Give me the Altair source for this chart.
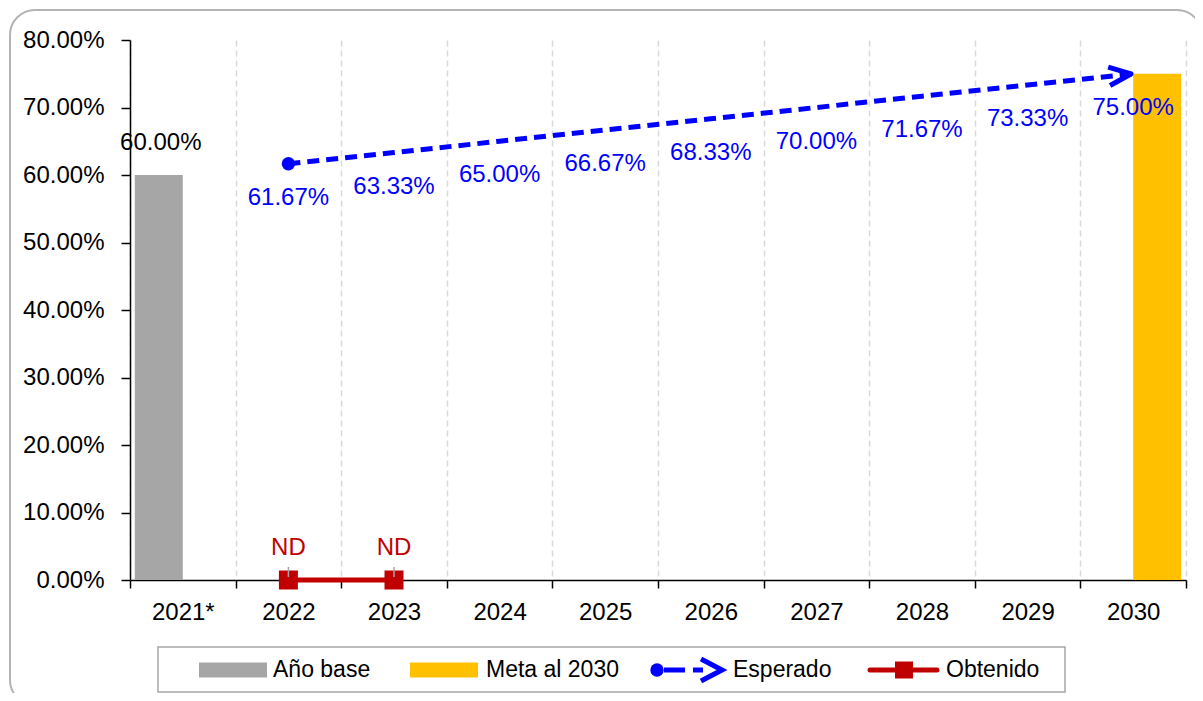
import altair as alt
import pandas as pd

# ---------------- data ----------------
years = ["2021*", "2022", "2023", "2024", "2025", "2026", "2027", "2028", "2029", "2030"]

bar_years = ["2021*", "2030"]
bar_series = ["Año base", "Meta al 2030"]
bar_values = [0.60, 0.75]
bar_labels = ["60.00%", ""]

esperado_years = ["2022", "2023", "2024", "2025", "2026", "2027", "2028", "2029", "2030"]
esperado_values = [0.6167, 0.6333, 0.6500, 0.6667, 0.6833, 0.7000, 0.7167, 0.7333, 0.7500]

obtenido_years = ["2022", "2023"]
obtenido_values = [0.0, 0.0]
obtenido_labels = ["ND", "ND"]

y_ticks = [0.0, 0.1, 0.2, 0.3, 0.4, 0.5, 0.6, 0.7, 0.8]
legend_labels = ["Año base", "Meta al 2030", "Esperado", "Obtenido"]

# ---------------- styles ----------------
FONT = "Liberation Sans, Arial, sans-serif"
GRAY = "#A6A6A6"
YELLOW = "#FFC000"
BLUE = "#0000FF"
RED = "#C00000"
FS = 24

bars_df = pd.DataFrame({"year": bar_years, "serie": bar_series, "value": bar_values, "label": bar_labels})
esp_df = pd.DataFrame({"year": esperado_years, "value": esperado_values})
obt_df = pd.DataFrame({"year": obtenido_years, "value": obtenido_values, "label": obtenido_labels})

x_enc = alt.X(
    "year:N",
    scale=alt.Scale(domain=years, paddingInner=0, paddingOuter=0),
    axis=alt.Axis(
        title=None, labelAngle=0, tickBand="extent", grid=True,
        gridColor="#D9D9D9", gridDash=[6, 4], gridWidth=1.5,
        domainColor="black", domainWidth=1.5, tickColor="black", tickWidth=1.5,
        tickSize=8, labelPadding=12, labelFont=FONT, labelFontSize=FS,
        labelColor="black",
    ),
)
y_enc = alt.Y(
    "value:Q",
    scale=alt.Scale(domain=[0, 0.8], nice=False, zero=True),
    axis=alt.Axis(
        title=None, values=y_ticks, format=".2%", grid=False,
        domainColor="black", domainWidth=1.5, tickColor="black", tickWidth=1.5,
        tickSize=9, labelPadding=17, labelFont=FONT, labelFontSize=FS,
        labelColor="black",
    ),
)
xoff = alt.XOffset("serie:N", scale=alt.Scale(domain=bar_series, paddingInner=0, paddingOuter=0.1))

bars = alt.Chart(bars_df).mark_bar().encode(
    x=x_enc, y=y_enc, xOffset=xoff,
    color=alt.Color("serie:N", scale=alt.Scale(domain=bar_series, range=[GRAY, YELLOW]), legend=None),
)
bar_text = alt.Chart(bars_df).mark_text(dy=-32, dx=2, font=FONT, fontSize=FS, color="black").encode(
    x=alt.X("year:N"), y="value:Q", xOffset=xoff, text="label:N",
)

esp_line = alt.Chart(esp_df).mark_line(color=BLUE, strokeWidth=5, strokeDash=[12, 7]).encode(
    x="year:N", y="value:Q"
)
esp_start = alt.Chart(esp_df.iloc[[0]]).mark_point(
    shape="circle", filled=True, size=180, color=BLUE, opacity=1
).encode(x="year:N", y="value:Q")
esp_arrow = alt.Chart(esp_df.iloc[[-1]]).mark_point(
    shape="M-1.1,-0.42L-0.1,0L-1.1,0.42", filled=False, size=1936, color=BLUE, strokeWidth=5,
    opacity=1, angle=354, strokeJoin="round",
).encode(x="year:N", y="value:Q")
esp_text = alt.Chart(esp_df).mark_text(dy=34, font=FONT, fontSize=FS, color=BLUE).encode(
    x="year:N", y="value:Q", text=alt.Text("value:Q", format=".2%")
)

obt_line = alt.Chart(obt_df).mark_line(color=RED, strokeWidth=5).encode(x="year:N", y="value:Q")
obt_pts = alt.Chart(obt_df).mark_point(shape="square", filled=True, size=361, color=RED, opacity=1).encode(
    x="year:N", y="value:Q"
)
obt_lead = alt.Chart(obt_df).mark_rule(color=GRAY, strokeWidth=1.5, yOffset=-13, y2Offset=-3).encode(
    x="year:N", y="value:Q", y2="value:Q"
)
obt_text = alt.Chart(obt_df).mark_text(dy=-32, font=FONT, fontSize=FS, color=RED).encode(
    x="year:N", y="value:Q", text="label:N"
)

# ---------------- frame and legend (decoration) ----------------
one = pd.DataFrame({"k": [0]})
def deco():
    return alt.Chart(one)

frame = deco().mark_rect(cornerRadius=25, fillOpacity=0, stroke="#B4B4B4", strokeWidth=2).encode(
    x=alt.value(-120), x2=alt.value(1072), y=alt.value(-30), y2=alt.value(665)
)
leg_box = deco().mark_rect(fill="white", stroke=GRAY, strokeWidth=1.5).encode(
    x=alt.value(28), x2=alt.value(935), y=alt.value(607), y2=alt.value(652)
)
LY = 630
def leg_text(i, x):
    return deco().mark_text(align="left", baseline="middle", font=FONT, fontSize=23, color="black").encode(
        x=alt.value(x), y=alt.value(LY), text=alt.value(legend_labels[i])
    )

leg = [
    leg_box,
    deco().mark_rect(color=GRAY).encode(x=alt.value(69), x2=alt.value(137), y=alt.value(LY - 7.5), y2=alt.value(LY + 7.5)),
    leg_text(0, 143),
    deco().mark_rect(color=YELLOW).encode(x=alt.value(280), x2=alt.value(348), y=alt.value(LY - 7.5), y2=alt.value(LY + 7.5)),
    leg_text(1, 356),
    deco().mark_point(shape="circle", filled=True, size=180, color=BLUE, opacity=1).encode(
        x=alt.value(527), y=alt.value(LY)),
    deco().mark_rule(color=BLUE, strokeWidth=5).encode(x=alt.value(534), x2=alt.value(555), y=alt.value(LY)),
    deco().mark_rule(color=BLUE, strokeWidth=5).encode(x=alt.value(563), x2=alt.value(573), y=alt.value(LY)),
    deco().mark_point(shape="M-1,-0.52L0,0L-1,0.52", filled=False, size=1764, color=BLUE, strokeWidth=5,
                      opacity=1).encode(x=alt.value(592), y=alt.value(LY)),
    leg_text(2, 603),
    deco().mark_rule(color=RED, strokeWidth=5, strokeCap="round").encode(
        x=alt.value(740), x2=alt.value(807), y=alt.value(LY)),
    deco().mark_rect(color=RED).encode(x=alt.value(765), x2=alt.value(783), y=alt.value(LY - 8.5), y2=alt.value(LY + 8.5)),
    leg_text(3, 816),
]

chart = alt.layer(
    frame, bars, bar_text, esp_line, esp_start, esp_arrow, esp_text,
    obt_line, obt_pts, obt_lead, obt_text, *leg
).properties(
    width=1056, height=540,
    padding={"left": 122, "top": 32, "right": 9, "bottom": 113},
    autosize=alt.AutoSizeParams(type="none"),
).configure_view(stroke=None)

chart.save("out.html", embed_options={"renderer": "svg", "actions": False})
